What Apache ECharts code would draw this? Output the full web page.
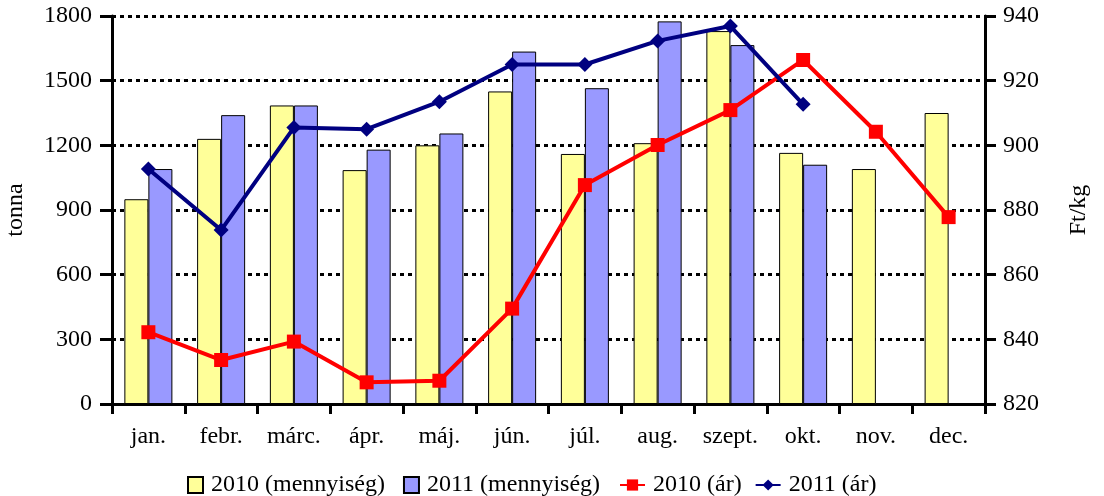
<!DOCTYPE html>
<html>
<head>
<meta charset="utf-8">
<script src="https://cdn.jsdelivr.net/npm/echarts@6/dist/echarts.min.js"></script>
<style>
  html, body { margin: 0; padding: 0; background: #fff; }
  #chart { width: 1104px; height: 496px; }
</style>
</head>
<body>
<div id="chart"></div>
<script>
// months
var months = ['jan.', 'febr.', 'márc.', 'ápr.', 'máj.', 'jún.', 'júl.', 'aug.', 'szept.', 'okt.', 'nov.', 'dec.'];

// quantity (tonna)
var qty2010 = [950, 1230, 1385, 1085, 1200, 1450, 1160, 1210, 1730, 1165, 1090, 1350];
var qty2011 = [1090, 1340, 1385, 1180, 1255, 1635, 1465, 1775, 1665, 1110, null, null];

// price (Ft/kg)
var price2010 = [842.2, 833.6, 839.3, 826.7, 827.2, 849.5, 887.7, 900.1, 910.9, 926.4, 904.2, 877.8];
var price2011 = [892.7, 873.8, 905.5, 905, 913.5, 925, 925, 932.3, 936.9, 912.7, null, null];

var font = '"Liberation Serif", "DejaVu Serif", serif';
var fs = 24;

var chart = echarts.init(document.getElementById('chart'), null, { renderer: 'canvas' });

var legendText = { fontFamily: font, fontSize: fs, color: '#000', padding: [0, 0, 0, 3] };

var option = {
  animation: false,
  textStyle: { fontFamily: font, color: '#000' },
  grid: { left: 112, right: 119, top: 16, bottom: 92, outerBoundsMode: 'none', containLabel: false },
  legend: [{
    // bar entries: small square boxes
    top: 468,
    left: 182,
    itemGap: 18,
    itemWidth: 15,
    itemHeight: 16,
    textStyle: legendText,
    data: [
      { name: '2010 (mennyiség)', icon: 'rect' },
      { name: '2011 (mennyiség)', icon: 'rect' }
    ]
  }, {
    // line entries
    top: 468,
    left: 614,
    itemGap: 13,
    itemWidth: 25,
    itemHeight: 14,
    textStyle: legendText,
    data: ['2010 (ár)', '2011 (ár)']
  }],
  xAxis: {
    type: 'category',
    data: months,
    axisLine: { lineStyle: { color: '#000', width: 3 } },
    axisTick: { show: true, length: 10, lineStyle: { color: '#000', width: 3 } },
    axisLabel: { fontFamily: font, fontSize: fs, color: '#000', margin: 21 }
  },
  yAxis: [{
    type: 'value',
    min: 0,
    max: 1800,
    interval: 300,
    name: 'tonna',
    nameLocation: 'middle',
    nameGap: 84,
    nameRotate: 90,
    nameTextStyle: { fontFamily: font, fontSize: fs, color: '#000' },
    axisLine: { show: true, lineStyle: { color: '#000', width: 3 } },
    axisTick: { show: true, length: 12, lineStyle: { color: '#000', width: 3 } },
    axisLabel: {
      fontFamily: font, fontSize: fs, color: '#000', margin: 20,
      formatter: function (v) { return String(v); }
    },
    splitLine: { show: true, lineStyle: { color: '#000', width: 3, type: [4, 4] } }
  }, {
    type: 'value',
    min: 820,
    max: 940,
    interval: 20,
    name: 'Ft/kg',
    nameLocation: 'middle',
    nameGap: 82,
    nameRotate: 90,
    nameTextStyle: { fontFamily: font, fontSize: fs, color: '#000' },
    axisLine: { show: true, lineStyle: { color: '#000', width: 3 } },
    axisTick: { show: true, length: 11, lineStyle: { color: '#000', width: 3 } },
    axisLabel: { fontFamily: font, fontSize: fs, color: '#000', margin: 18 },
    splitLine: { show: false }
  }],
  series: [{
    name: '2010 (mennyiség)',
    type: 'bar',
    data: qty2010,
    barGap: 0,
    barCategoryGap: '34%',
    itemStyle: { color: '#FFFF99', borderColor: '#000', borderWidth: 1 }
  }, {
    name: '2011 (mennyiség)',
    type: 'bar',
    data: qty2011,
    itemStyle: { color: '#9999FF', borderColor: '#000', borderWidth: 1 }
  }, {
    name: '2010 (ár)',
    type: 'line',
    yAxisIndex: 1,
    data: price2010,
    symbol: 'rect',
    symbolSize: 14,
    lineStyle: { color: '#FF0000', width: 4 },
    itemStyle: { color: '#FF0000' }
  }, {
    name: '2011 (ár)',
    type: 'line',
    yAxisIndex: 1,
    data: price2011,
    symbol: 'diamond',
    symbolSize: 15,
    lineStyle: { color: '#000080', width: 4 },
    itemStyle: { color: '#000080' }
  }]
};

chart.setOption(option);
</script>
</body>
</html>
